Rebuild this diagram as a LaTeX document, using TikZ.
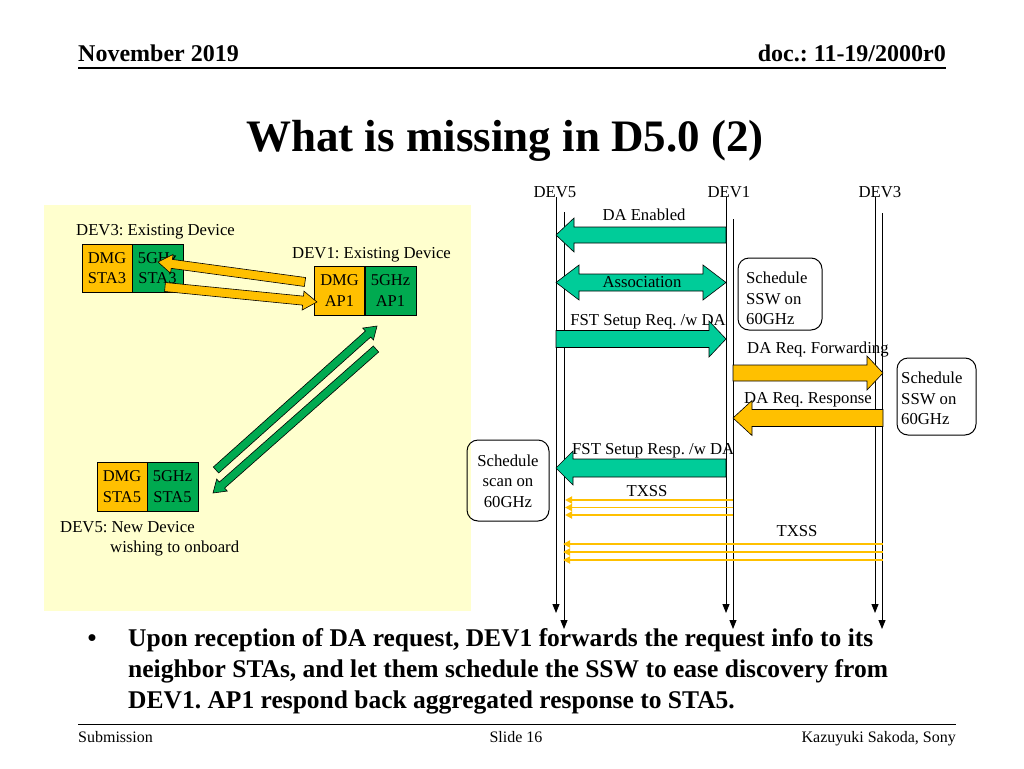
\documentclass[tikz,border=0pt]{standalone}
\usepackage{fontspec}
\setmainfont{Liberation Serif}
\usetikzlibrary{arrows.meta}
\definecolor{orangeC}{RGB}{255,192,0}
\definecolor{greenC}{RGB}{0,170,80}
\definecolor{tealC}{RGB}{0,204,153}
\definecolor{yellowBG}{RGB}{255,255,206}
\newcommand{\blkArrow}[7]{%
  \begin{scope}[shift={#2},rotate=#3]
    \path[#1] (0,#5) -- ({#4-#7},#5) -- ({#4-#7},#6) -- (#4,0) -- ({#4-#7},-#6) -- ({#4-#7},-#5) -- (0,-#5) -- cycle;
  \end{scope}}
\newcommand{\dblArrow}[6]{%
  \begin{scope}[shift={#2}]
    \path[#1] (0,0) -- (#6,-#5) -- (#6,-#4) -- ({#3-#6},-#4) -- ({#3-#6},-#5) -- (#3,0) -- ({#3-#6},#5) -- ({#3-#6},#4) -- (#6,#4) -- (#6,#5) -- cycle;
  \end{scope}}
\frenchspacing
\begin{document}
\begin{tikzpicture}[x=1pt,y=-1pt,
  lbl/.style={inner sep=0pt,font=\fontsize{16.7}{20.5}\selectfont},
  hdr/.style={inner sep=0pt,font=\fontsize{24}{28}\selectfont\bfseries},
  ftr/.style={inner sep=0pt,font=\fontsize{16}{19}\selectfont},
  bul/.style={inner sep=0pt,font=\fontsize{25.5}{31}\selectfont\bfseries},
  obox/.style={draw=black,line width=0.8pt,fill=orangeC,minimum width=50pt,minimum height=48pt,inner sep=0pt,align=center,font=\fontsize{16.5}{20.5}\selectfont},
  gbox/.style={draw=black,line width=0.8pt,fill=greenC,minimum width=51pt,minimum height=48pt,inner sep=0pt,align=center,font=\fontsize{16.5}{20.5}\selectfont},
  sched/.style={draw=black,line width=1pt,rounded corners=11pt,inner sep=0pt},
  life/.style={draw=black,line width=1pt,-{Triangle[width=7pt,length=9pt]}},
  tealA/.style={draw=black,fill=tealC,line width=0.6pt},
  orA/.style={draw=black,fill=orangeC,line width=0.6pt},
  grA/.style={draw=black,fill=greenC,line width=0.6pt},
  txss/.style={draw=orangeC,line width=1.8pt,-{Triangle[width=7pt,length=7pt]}}]
\useasboundingbox (0,0) rectangle (1024,768);
\fill[white] (0,0) rectangle (1024,768);
% header
\node[hdr,anchor=base west] (date) at (78,62) {November 2019};
\node[hdr,anchor=base east] (doc) at (946,62) {doc.: 11-19/2000r0};
\coordinate (hl) at (78,68); \coordinate (hr) at (946,68);
\draw[line width=1.6pt] (hl) -- (hr);
% title
\node[inner sep=0pt,anchor=base,font=\fontsize{45}{54}\selectfont\bfseries] (title) at (505,151) {What is missing in D5.0 (2)};
% left panel
\fill[yellowBG] (44,205) rectangle (471,611);
\node[lbl,anchor=base west] (dev3l) at (76,235) {DEV3: Existing Device};
\node[lbl,anchor=base west] (dev1l) at (292,258) {DEV1: Existing Device};
\node[obox] (dmg3) at (107,268) {DMG\\STA3};
\node[gbox] (g3) at (157.5,268) {5GHz\\STA3};
\node[obox,minimum height=49pt] (dmg1) at (339.5,290.5) {DMG\\AP1};
\node[gbox,minimum height=49pt] (g1) at (390.5,290.5) {5GHz\\AP1};
\node[obox,minimum height=49pt] (dmg5) at (122,486.5) {DMG\\STA5};
\node[gbox,minimum height=49pt] (g5) at (172.5,486.5) {5GHz\\STA5};
\node[lbl,anchor=base west] (dev5l) at (60,532) {DEV5: New Device};
\node[lbl,anchor=base west] (dev5l2) at (110,552) {wishing to onboard};
% left panel arrows
\blkArrow{orA}{(305,282)}{172.25}{148.4}{4.5}{9.5}{14}
\blkArrow{orA}{(165,287)}{-5.64}{152.7}{4.5}{9.5}{14}
\blkArrow{grA}{(216,470)}{41.8}{216}{4}{8}{12}
\blkArrow{grA}{(376,349)}{221.46}{217.5}{4}{8}{12}
% lifelines
\node[lbl,anchor=base] (dev5) at (555,197) {DEV5};
\node[lbl,anchor=base] (dev1) at (729,197) {DEV1};
\node[lbl,anchor=base] (dev3) at (880,197) {DEV3};
\coordinate (a5t) at (556,197); \coordinate (a5b) at (556,613);
\coordinate (b5t) at (564,212); \coordinate (b5b) at (564,629);
\coordinate (a1t) at (726,197); \coordinate (a1b) at (726,613);
\coordinate (b1t) at (733,219); \coordinate (b1b) at (733,629);
\coordinate (a3t) at (875,197); \coordinate (a3b) at (875,613);
\coordinate (b3t) at (882,213); \coordinate (b3b) at (882,629);
\draw[life] (a5t) -- (a5b);
\draw[life] (b5t) -- (b5b);
\draw[life] (a1t) -- (a1b);
\draw[life] (b1t) -- (b1b);
\draw[life] (a3t) -- (a3b);
\draw[life] (b3t) -- (b3b);
% messages
\blkArrow{tealA}{(726,235)}{180}{170}{8}{17}{18}
\node[lbl,anchor=base] (daen) at (644,220) {DA Enabled};
\dblArrow{tealA}{(556,282.5)}{170}{8.5}{17.5}{23}
\node[lbl] (assoc) at (642,282.5) {Association};
\node[lbl,anchor=base] (fstreq) at (648,325) {FST Setup Req. /w DA};
\blkArrow{tealA}{(556,339)}{0}{170}{8.5}{18}{17}
\node[sched,minimum width=84pt,minimum height=72pt] (schA) at (780,294) {};
\node[lbl,anchor=north west,align=left] (schAt) at (746,272) {Schedule\\SSW on\\60GHz};
\node[lbl,anchor=base west] (fwd) at (747,353) {DA Req. Forwarding};
\blkArrow{orA}{(733,373)}{0}{150}{8}{17}{16}
\node[sched,minimum width=79pt,minimum height=77pt] (schB) at (936.5,396.5) {};
\node[lbl,anchor=north west,align=left] (schBt) at (901,372) {Schedule\\SSW on\\60GHz};
\node[lbl,anchor=base west] (resp) at (744,403) {DA Req. Response};
\blkArrow{orA}{(883,418)}{180}{150}{8.5}{17.5}{19}
\node[sched,minimum width=82pt,minimum height=81pt] (schC) at (508,480.5) {};
\node[lbl,align=center] (schCt) at (508,481) {Schedule\\scan on\\60GHz};
\node[lbl,anchor=base west] (fstresp) at (572,454) {FST Setup Resp. /w DA};
\blkArrow{tealA}{(726,468)}{180}{170}{9}{17}{17}
\node[lbl,anchor=base] (tx1) at (647,496) {TXSS};
\foreach \yy in {500,507.5,515}{
  \coordinate (s1) at (733,\yy); \coordinate (e1) at (565,\yy);
  \draw[txss] (s1) -- (e1);}
\node[lbl,anchor=base] (tx2) at (797,536) {TXSS};
\foreach \yy in {544,552,560}{
  \coordinate (s2) at (883,\yy); \coordinate (e2) at (563,\yy);
  \draw[txss] (s2) -- (e2);}
% bullet text
\node[bul,anchor=base] (dot) at (92,646) {\textbullet};
\node[bul,anchor=base west] (t1) at (128,646) {Upon reception of DA request, DEV1 forwards the request info to its};
\node[bul,anchor=base west] (t2) at (128,677) {neighbor STAs, and let them schedule the SSW to ease discovery from};
\node[bul,anchor=base west] (t3) at (128,708) {DEV1. AP1 respond back aggregated response to STA5.};
% footer
\coordinate (fl) at (78,724); \coordinate (fr) at (956,724);
\draw[line width=0.8pt] (fl) -- (fr);
\node[ftr,anchor=base west] (sub) at (78,742) {Submission};
\node[ftr,anchor=base] (slide) at (516,742) {Slide 16};
\node[ftr,anchor=base east] (auth) at (956,742) {Kazuyuki Sakoda, Sony};
\end{tikzpicture}
\end{document}
